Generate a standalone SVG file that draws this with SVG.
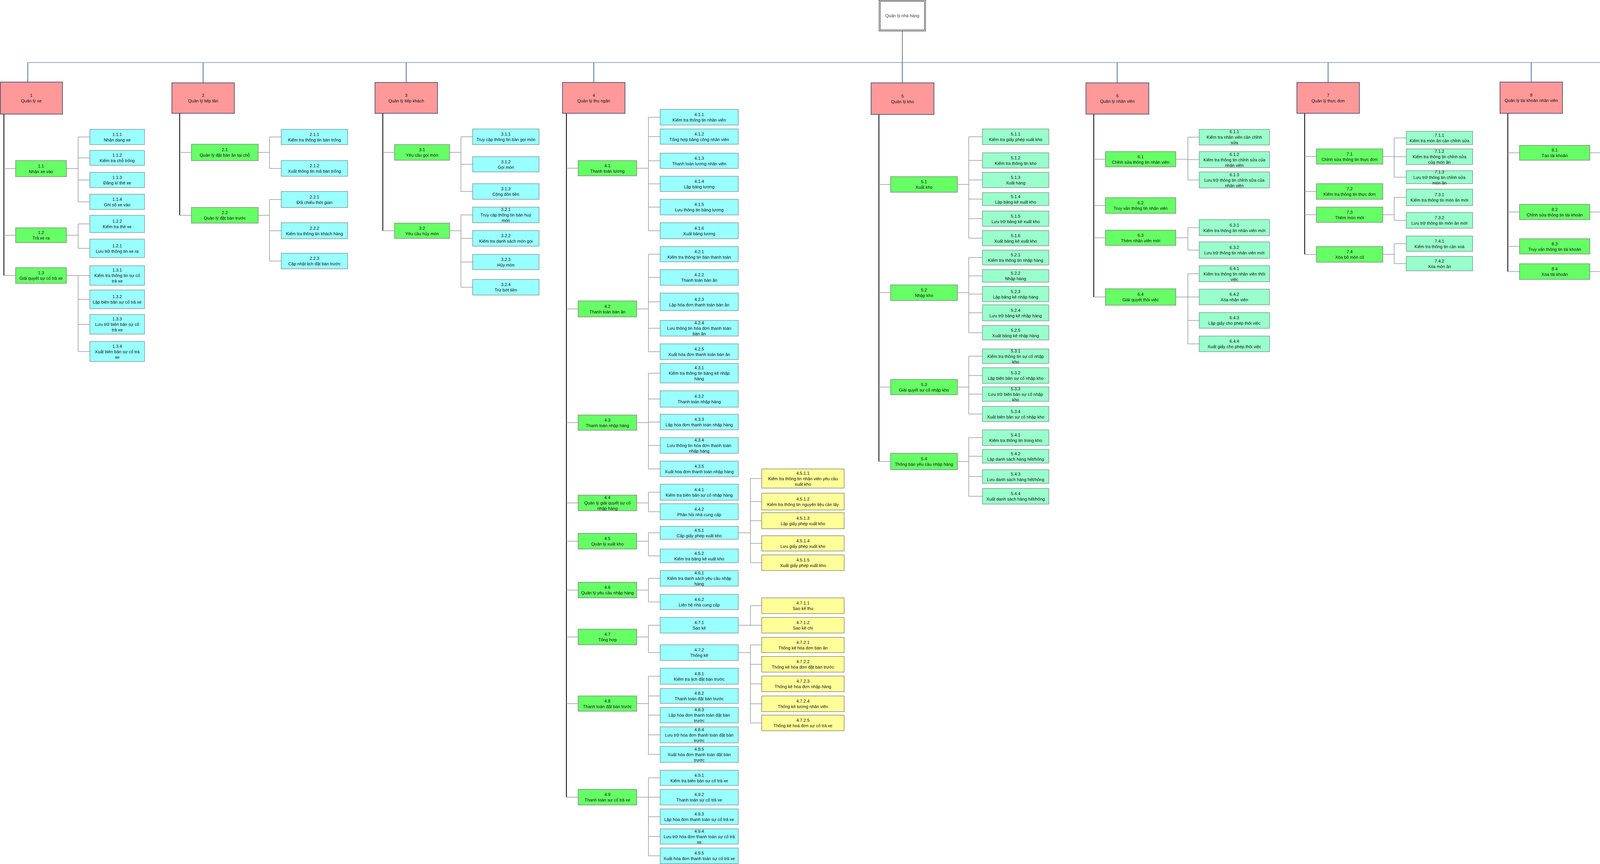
<svg xmlns="http://www.w3.org/2000/svg" width="5601" height="2211" viewBox="0 0 5601 2211">
<style>
text{font-family:"Liberation Sans",Arial,sans-serif;font-size:11px;text-anchor:middle;fill:#111}
.p rect{fill:#FF9999;stroke:#2B3E6E;stroke-width:1.5}
.g rect{fill:#66FF66;stroke:#7F8A7F;stroke-width:1.5}
.c rect{fill:#99FFFF;stroke:#7F9A9A;stroke-width:1.5}
.m rect{fill:#99FFCC;stroke:#7F9A8A;stroke-width:1.5}
.y rect{fill:#FFFF99;stroke:#8A8A70;stroke-width:1.5}
.b text{font-size:14px}
.root rect{fill:#fff;stroke:#000;stroke-width:1}
.root text{fill:#444}
.trunk{stroke:#000;stroke-width:2;fill:none}
.br{stroke:#999;stroke-width:1.5;fill:none}
.bus{stroke:#2F5675;stroke-width:1;fill:none}
.stub{stroke:#7E9CBD;stroke-width:3;fill:none}
.stem{stroke:#808080;stroke-width:2;fill:none}
</style>
<rect width="5601" height="2211" fill="#fff"/>
<g id="connectors">
<path class="stem" d="M2310 80V160"/>
<path class="bus" d="M71 160H5510"/>
<path class="stub" d="M71 160V210M520 160V212M1040 160V211M1520 160V211M2310 160V212M2860 160V212M3400 160V211M3920 160V210M4440 160V212M4970 160V211M5510 160V211"/>
<path class="trunk" d="M10 292V705M460 290V551M980 290V590.5M1450 290V2040M2250 293V1181M2800 292V760M3340 290V651M3860 290V695M4390 293V682M4920 290V682"/>
<path class="br" d="M10 431.5H40M10 602H40M10 705H40
M170 431.5H200M200 350.5V516.5M200 350.5H230M200 404H230M200 460.5H230M200 516.5H230
M170 602H200M200 573V635.5M200 573H230M200 635.5H230
M170 705H200M200 705V899.5M200 705H230M200 766H230M200 830H230M200 899.5H230
M460 390H490M460 551H490
M661 390H690M690 350.5V431M690 350.5H720M690 431H720
M661 551H690M690 510.5V668M690 510.5H720M690 590.5H720M690 668H720
M980 390H1010M980 590.5H1010
M1151 390H1180M1180 350V490M1180 350H1210M1180 420.5H1210M1180 490H1210
M1151 590.5H1180M1180 550V735M1180 550H1210M1180 610H1210M1180 670.5H1210M1180 735H1210
M1450 430.5H1480M1450 790.5H1480M1450 1081.5H1480M1450 1287H1480M1450 1385H1480M1450 1510H1480M1450 1630H1480M1450 1800.5H1480M1450 2040H1480
M1630 430.5H1660M1660 300V590.5M1660 300H1690M1660 349.5H1690M1660 411.5H1690M1660 470.5H1690M1660 530H1690M1660 590.5H1690
M1630 790.5H1660M1660 650.5V900M1660 650.5H1690M1660 710H1690M1660 772.5H1690M1660 840H1690M1660 900H1690
M1630 1081.5H1660M1660 955V1200M1660 955H1690M1660 1021H1690M1660 1080H1690M1660 1140H1690M1660 1200H1690
M1630 1287H1660M1660 1259.5V1309.5M1660 1259.5H1690M1660 1309.5H1690
M1630 1385H1660M1660 1363.5V1422.5M1660 1363.5H1690M1660 1422.5H1690
M1630 1510H1660M1660 1480V1540.5M1660 1480H1690M1660 1540.5H1690
M1630 1630H1660M1660 1600V1670M1660 1600H1690M1660 1670H1690
M1630 1800.5H1660M1660 1730.5V1930.5M1660 1730.5H1690M1660 1781H1690M1660 1830H1690M1660 1880.5H1690M1660 1930.5H1690
M1630 2040H1660M1660 1990.5V2190M1660 1990.5H1690M1660 2040H1690M1660 2090H1690M1660 2140.5H1690M1660 2190H1690
M1890 1363.5H1921M1921 1224.5V1440M1921 1224.5H1950M1921 1283.5H1950M1921 1332.5H1950M1921 1390.5H1950M1921 1440H1950
M1890 1600H1921M1921 1550V1600M1921 1550H1950M1921 1600H1950
M1890 1670H1921M1921 1650.5V1850M1921 1650.5H1950M1921 1700H1950M1921 1750H1950M1921 1801H1950M1921 1850H1950
M2250 472H2280M2250 749H2280M2250 990.5H2280M2250 1181H2280
M2451 472H2480M2480 350V609.5M2480 350H2515M2480 410.5H2515M2480 460.5H2515M2480 509.5H2515M2480 559.5H2515M2480 609.5H2515
M2451 749H2480M2480 659V851.5M2480 659H2515M2480 706H2515M2480 752.5H2515M2480 800.5H2515M2480 851.5H2515
M2451 990.5H2480M2480 911.5V1059.5M2480 911.5H2515M2480 961H2515M2480 1008.5H2515M2480 1059.5H2515
M2451 1181H2480M2480 1120V1270M2480 1120H2515M2480 1167.5H2515M2480 1219.5H2515M2480 1270H2515
M2800 407.5H2830M2800 526H2830M2800 608.5H2830M2800 760H2830
M3010 407.5H3041M3041 351V460.5M3041 351H3070M3041 408.5H3070M3041 460.5H3070
M3010 608.5H3041M3041 582.5V640M3041 582.5H3070M3041 640H3070
M3010 760H3041M3041 700.5V880M3041 700.5H3070M3041 760H3070M3041 820H3070M3041 880H3070
M3340 400.5H3370M3340 490H3370M3340 549.5H3370M3340 651H3370
M3540 400.5H3569M3569 353V453.5M3569 353H3600M3569 401H3600M3569 453.5H3600
M3540 549.5H3569M3569 505V564M3569 505H3600M3569 564H3600
M3540 651H3569M3569 623.5V674.5M3569 623.5H3600M3569 674.5H3600
M3860 391H3890M3860 542.5H3890M3860 630.5H3890M3860 695H3890
M4070 391H4100M4100 350V410M4100 350H4130M4100 410H4130
M4070 542.5H4100M4100 470V590.5M4100 470H4130M4100 529.5H4130M4100 590.5H4130
M4070 695H4100M4100 664V720M4100 664H4130M4100 720H4130
M4390 405.5H4420M4390 500H4420M4390 570.5H4420M4390 682H4420
M4611 405.5H4640M4640 349V460M4640 349H4670M4640 405H4670M4640 460H4670
M4611 570.5H4640M4640 542.5V602M4640 542.5H4670M4640 602H4670
M4611 682H4640M4640 661V720M4640 661H4670M4640 720H4670
M4920 405.5H4950M4920 500H4950M4920 570.5H4950M4920 682H4950
M5141 405.5H5171M5171 349V460M5171 349H5200M5171 405H5200M5171 460H5200
M5141 570.5H5171M5171 542.5V602M5171 542.5H5200M5171 602H5200
M5141 682H5171M5171 661V720M5171 661H5200M5171 720H5200"/>
</g>

<g id="root" class="root"><rect x="2250.5" y="0.5" width="119" height="79"/><rect x="2253.5" y="3.5" width="113" height="73"/><text x="2310" y="44">Quản lý nhà hàng</text></g>

<!-- Column 1 -->
<g id="n1" class="p"><rect x="1" y="210" width="159" height="82"/><text x="80" y="248"><tspan x="80">1</tspan><tspan x="80" dy="14">Quản lý xe</tspan></text></g>
<g id="n1-1" class="g"><rect x="40" y="411" width="130" height="41"/><text x="105" y="428.5"><tspan x="105">1.1</tspan><tspan x="105" dy="14">Nhận xe vào</tspan></text></g>
<g id="n1-2" class="g"><rect x="40" y="583" width="130" height="38"/><text x="105" y="599"><tspan x="105">1.2</tspan><tspan x="105" dy="14">Trả xe ra</tspan></text></g>
<g id="n1-3" class="g"><rect x="40" y="685" width="130" height="40"/><text x="105" y="702"><tspan x="105">1.3</tspan><tspan x="105" dy="14">Giải quyết sự cố trả xe</tspan></text></g>
<g id="n1-1-1" class="c"><rect x="230" y="331" width="140" height="39"/><text x="300" y="347.5"><tspan x="300">1.1.1</tspan><tspan x="300" dy="14">Nhận dạng xe</tspan></text></g>
<g id="n1-1-2" class="c"><rect x="230" y="385" width="140" height="38"/><text x="300" y="401"><tspan x="300">1.1.2</tspan><tspan x="300" dy="14">Kiểm tra chỗ trống</tspan></text></g>
<g id="n1-1-3" class="c"><rect x="230" y="441" width="140" height="39"/><text x="300" y="457.5"><tspan x="300">1.1.3</tspan><tspan x="300" dy="14">Đăng kí thẻ xe</tspan></text></g>
<g id="n1-1-4" class="c"><rect x="230" y="497" width="140" height="39"/><text x="300" y="513.5"><tspan x="300">1.1.4</tspan><tspan x="300" dy="14">Ghi sổ xe vào</tspan></text></g>
<g id="n1-2-2" class="c"><rect x="230" y="551" width="140" height="44"/><text x="300" y="570"><tspan x="300">1.2.2</tspan><tspan x="300" dy="14">Kiểm tra thẻ xe</tspan></text></g>
<g id="n1-2-1" class="c"><rect x="230" y="612" width="140" height="47"/><text x="300" y="632.5"><tspan x="300">1.2.1</tspan><tspan x="300" dy="14">Lưu trữ thông tin xe ra</tspan></text></g>
<g id="n1-3-1" class="c"><rect x="230" y="680" width="140" height="50"/><text x="300" y="695"><tspan x="300">1.3.1</tspan><tspan x="300" dy="14">Kiểm tra thông tin sự cố</tspan><tspan x="300" dy="14">trả xe</tspan></text></g>
<g id="n1-3-2" class="c"><rect x="230" y="742" width="140" height="48"/><text x="300" y="763"><tspan x="300">1.3.2</tspan><tspan x="300" dy="14">Lập biên bản sự cố trả xe</tspan></text></g>
<g id="n1-3-3" class="c"><rect x="230" y="805" width="140" height="50"/><text x="300" y="820"><tspan x="300">1.3.3</tspan><tspan x="300" dy="14">Lưu trữ biên bản sự cố</tspan><tspan x="300" dy="14">trả xe</tspan></text></g>
<g id="n1-3-4" class="c"><rect x="230" y="874" width="140" height="51"/><text x="300" y="889.5"><tspan x="300">1.3.4</tspan><tspan x="300" dy="14">Xuất biên bản sự cố trả</tspan><tspan x="300" dy="14">xe</tspan></text></g>

<!-- Column 2 -->
<g id="n2" class="p"><rect x="440" y="212" width="160" height="78"/><text x="520" y="248"><tspan x="520">2</tspan><tspan x="520" dy="14">Quản lý tiếp tân</tspan></text></g>
<g id="n2-1" class="g"><rect x="490" y="369" width="171" height="42"/><text x="575.5" y="387"><tspan x="575.5">2.1</tspan><tspan x="575.5" dy="14">Quản lý đặt bàn ăn tại chỗ</tspan></text></g>
<g id="n2-2" class="g"><rect x="490" y="531" width="171" height="40"/><text x="575.5" y="548"><tspan x="575.5">2.2</tspan><tspan x="575.5" dy="14">Quản lý đặt bàn trước</tspan></text></g>
<g id="n2-1-1" class="c"><rect x="720" y="331" width="170" height="39"/><text x="805" y="347.5"><tspan x="805">2.1.1</tspan><tspan x="805" dy="14">Kiểm tra thông tin bàn trống</tspan></text></g>
<g id="n2-1-2" class="c"><rect x="720" y="411" width="170" height="40"/><text x="805" y="428"><tspan x="805">2.1.2</tspan><tspan x="805" dy="14">Xuất thông tin mã bàn trống</tspan></text></g>
<g id="n2-2-1" class="c"><rect x="720" y="490" width="170" height="41"/><text x="805" y="507.5"><tspan x="805">2.2.1</tspan><tspan x="805" dy="14">Đối chiếu thời gian</tspan></text></g>
<g id="n2-2-2" class="c"><rect x="720" y="570" width="170" height="41"/><text x="805" y="587.5"><tspan x="805">2.2.2</tspan><tspan x="805" dy="14">Kiểm tra thông tin khách hàng</tspan></text></g>
<g id="n2-2-3" class="c"><rect x="720" y="648" width="170" height="40"/><text x="805" y="665"><tspan x="805">2.2.3</tspan><tspan x="805" dy="14">Cập nhật lịch đặt bàn trước</tspan></text></g>

<!-- Column 3 -->
<g id="n3" class="p"><rect x="960" y="211" width="160" height="79"/><text x="1040" y="247.5"><tspan x="1040">3</tspan><tspan x="1040" dy="14">Quản lý tiếp khách</tspan></text></g>
<g id="n3-1" class="g"><rect x="1010" y="370" width="141" height="40"/><text x="1080.5" y="387"><tspan x="1080.5">3.1</tspan><tspan x="1080.5" dy="14">Yêu cầu gọi món</tspan></text></g>
<g id="n3-2" class="g"><rect x="1010" y="571" width="141" height="39"/><text x="1080.5" y="587.5"><tspan x="1080.5">3.2</tspan><tspan x="1080.5" dy="14">Yêu cầu hủy món</tspan></text></g>
<g id="n3-1-1" class="c"><rect x="1210" y="330" width="170" height="40"/><text x="1295" y="347"><tspan x="1295">3.1.1</tspan><tspan x="1295" dy="14">Truy cập thông tin bàn gọi món</tspan></text></g>
<g id="n3-1-2" class="c"><rect x="1210" y="401" width="170" height="39"/><text x="1295" y="417.5"><tspan x="1295">3.1.2</tspan><tspan x="1295" dy="14">Gọi món</tspan></text></g>
<g id="n3-1-3" class="c"><rect x="1210" y="470" width="170" height="40"/><text x="1295" y="487"><tspan x="1295">3.1.3</tspan><tspan x="1295" dy="14">Cộng dồn tiền</tspan></text></g>
<g id="n3-2-1" class="c"><rect x="1210" y="530" width="170" height="40"/><text x="1295" y="540"><tspan x="1295">3.2.1</tspan><tspan x="1295" dy="14">Truy cập thông tin bàn huỷ</tspan><tspan x="1295" dy="14">món</tspan></text></g>
<g id="n3-2-2" class="c"><rect x="1210" y="590" width="170" height="40"/><text x="1295" y="607"><tspan x="1295">3.2.2</tspan><tspan x="1295" dy="14">Kiểm tra danh sách món gọi</tspan></text></g>
<g id="n3-2-3" class="c"><rect x="1210" y="651" width="170" height="39"/><text x="1295" y="667.5"><tspan x="1295">3.2.3</tspan><tspan x="1295" dy="14">Hủy món</tspan></text></g>
<g id="n3-2-4" class="c"><rect x="1210" y="715" width="170" height="40"/><text x="1295" y="732"><tspan x="1295">3.2.4</tspan><tspan x="1295" dy="14">Trừ bớt tiền</tspan></text></g>

<!-- Column 4 -->
<g id="n4" class="p"><rect x="1440" y="211" width="160" height="79"/><text x="1520" y="247.5"><tspan x="1520">4</tspan><tspan x="1520" dy="14">Quản lý thu ngân</tspan></text></g>
<g id="n4-1" class="g"><rect x="1480" y="411" width="150" height="39"/><text x="1555" y="427.5"><tspan x="1555">4.1</tspan><tspan x="1555" dy="14">Thanh toán lương</tspan></text></g>
<g id="n4-2" class="g"><rect x="1480" y="770" width="150" height="41"/><text x="1555" y="787.5"><tspan x="1555">4.2</tspan><tspan x="1555" dy="14">Thanh toán bàn ăn</tspan></text></g>
<g id="n4-3" class="g"><rect x="1480" y="1062" width="150" height="39"/><text x="1555" y="1078.5"><tspan x="1555">4.3</tspan><tspan x="1555" dy="14">Thanh toán nhập hàng</tspan></text></g>
<g id="n4-4" class="g"><rect x="1480" y="1267" width="150" height="40"/><text x="1555" y="1277"><tspan x="1555">4.4</tspan><tspan x="1555" dy="14">Quản lý giải quyết sự cố</tspan><tspan x="1555" dy="14">nhập hàng</tspan></text></g>
<g id="n4-5" class="g"><rect x="1480" y="1365" width="150" height="40"/><text x="1555" y="1382"><tspan x="1555">4.5</tspan><tspan x="1555" dy="14">Quản lý xuất kho</tspan></text></g>
<g id="n4-6" class="g"><rect x="1480" y="1490" width="150" height="40"/><text x="1555" y="1507"><tspan x="1555">4.6</tspan><tspan x="1555" dy="14">Quản lý yêu cầu nhập hàng</tspan></text></g>
<g id="n4-7" class="g"><rect x="1480" y="1610" width="150" height="40"/><text x="1555" y="1627"><tspan x="1555">4.7</tspan><tspan x="1555" dy="14">Tổng hợp</tspan></text></g>
<g id="n4-8" class="g"><rect x="1480" y="1781" width="150" height="39"/><text x="1555" y="1797.5"><tspan x="1555">4.8</tspan><tspan x="1555" dy="14">Thanh toán đặt bàn trước</tspan></text></g>
<g id="n4-9" class="g"><rect x="1480" y="2020" width="150" height="40"/><text x="1555" y="2037"><tspan x="1555">4.9</tspan><tspan x="1555" dy="14">Thanh toán sự cố trả xe</tspan></text></g>
<g id="n4-1-1" class="c"><rect x="1690" y="280" width="200" height="40"/><text x="1790" y="297"><tspan x="1790">4.1.1</tspan><tspan x="1790" dy="14">Kiểm tra thông tin nhân viên</tspan></text></g>
<g id="n4-1-2" class="c"><rect x="1690" y="330" width="200" height="39"/><text x="1790" y="346.5"><tspan x="1790">4.1.2</tspan><tspan x="1790" dy="14">Tổng hợp bảng công nhân viên</tspan></text></g>
<g id="n4-1-3" class="c"><rect x="1690" y="392" width="200" height="39"/><text x="1790" y="408.5"><tspan x="1790">4.1.3</tspan><tspan x="1790" dy="14">Thanh toán lương nhân viên</tspan></text></g>
<g id="n4-1-4" class="c"><rect x="1690" y="451" width="200" height="39"/><text x="1790" y="467.5"><tspan x="1790">4.1.4</tspan><tspan x="1790" dy="14">Lập bảng lương</tspan></text></g>
<g id="n4-1-5" class="c"><rect x="1690" y="510" width="200" height="40"/><text x="1790" y="527"><tspan x="1790">4.1.5</tspan><tspan x="1790" dy="14">Lưu thông tin bảng lương</tspan></text></g>
<g id="n4-1-6" class="c"><rect x="1690" y="570" width="200" height="41"/><text x="1790" y="587.5"><tspan x="1790">4.1.6</tspan><tspan x="1790" dy="14">Xuất bảng lương</tspan></text></g>
<g id="n4-2-1" class="c"><rect x="1690" y="631" width="200" height="39"/><text x="1790" y="647.5"><tspan x="1790">4.2.1</tspan><tspan x="1790" dy="14">Kiểm tra thông tin bàn thanh toán</tspan></text></g>
<g id="n4-2-2" class="c"><rect x="1690" y="690" width="200" height="40"/><text x="1790" y="707"><tspan x="1790">4.2.2</tspan><tspan x="1790" dy="14">Thanh toán bàn ăn</tspan></text></g>
<g id="n4-2-3" class="c"><rect x="1690" y="750" width="200" height="45"/><text x="1790" y="769.5"><tspan x="1790">4.2.3</tspan><tspan x="1790" dy="14">Lập hóa đơn thanh toán bàn ăn</tspan></text></g>
<g id="n4-2-4" class="c"><rect x="1690" y="820" width="200" height="40"/><text x="1790" y="830"><tspan x="1790">4.2.4</tspan><tspan x="1790" dy="14">Lưu thông tin hóa đơn thanh toán</tspan><tspan x="1790" dy="14">bàn ăn</tspan></text></g>
<g id="n4-2-5" class="c"><rect x="1690" y="880" width="200" height="40"/><text x="1790" y="897"><tspan x="1790">4.2.5</tspan><tspan x="1790" dy="14">Xuất hóa đơn thanh toán bàn ăn</tspan></text></g>
<g id="n4-3-1" class="c"><rect x="1690" y="930" width="200" height="50"/><text x="1790" y="945"><tspan x="1790">4.3.1</tspan><tspan x="1790" dy="14">Kiểm tra thông tin bảng kê nhập</tspan><tspan x="1790" dy="14">hàng</tspan></text></g>
<g id="n4-3-2" class="c"><rect x="1690" y="1000" width="200" height="42"/><text x="1790" y="1018"><tspan x="1790">4.3.2</tspan><tspan x="1790" dy="14">Thanh toán nhập hàng</tspan></text></g>
<g id="n4-3-3" class="c"><rect x="1690" y="1060" width="200" height="40"/><text x="1790" y="1077"><tspan x="1790">4.3.3</tspan><tspan x="1790" dy="14">Lập hóa đơn thanh toán nhập hàng</tspan></text></g>
<g id="n4-3-4" class="c"><rect x="1690" y="1120" width="200" height="40"/><text x="1790" y="1130"><tspan x="1790">4.3.4</tspan><tspan x="1790" dy="14">Lưu thông tin hóa đơn thanh toán</tspan><tspan x="1790" dy="14">nhập hàng</tspan></text></g>
<g id="n4-3-5" class="c"><rect x="1690" y="1180" width="200" height="40"/><text x="1790" y="1197"><tspan x="1790">4.3.5</tspan><tspan x="1790" dy="14">Xuất hóa đơn thanh toán nhập hàng</tspan></text></g>
<g id="n4-4-1" class="c"><rect x="1690" y="1239" width="200" height="41"/><text x="1790" y="1256.5"><tspan x="1790">4.4.1</tspan><tspan x="1790" dy="14">Kiểm tra biên bản sự cố nhập hàng</tspan></text></g>
<g id="n4-4-2" class="c"><rect x="1690" y="1289" width="200" height="41"/><text x="1790" y="1306.5"><tspan x="1790">4.4.2</tspan><tspan x="1790" dy="14">Phản hồi nhà cung cấp</tspan></text></g>
<g id="n4-5-1" class="c"><rect x="1690" y="1347" width="200" height="33"/><text x="1790" y="1360.5"><tspan x="1790">4.5.1</tspan><tspan x="1790" dy="14">Cấp giấy phép xuất kho</tspan></text></g>
<g id="n4-5-2" class="c"><rect x="1690" y="1405" width="200" height="35"/><text x="1790" y="1419.5"><tspan x="1790">4.5.2</tspan><tspan x="1790" dy="14">Kiểm tra bảng kê xuất kho</tspan></text></g>
<g id="n4-6-1" class="c"><rect x="1690" y="1460" width="200" height="40"/><text x="1790" y="1470"><tspan x="1790">4.6.1</tspan><tspan x="1790" dy="14">Kiểm tra danh sách yêu cầu nhập</tspan><tspan x="1790" dy="14">hàng</tspan></text></g>
<g id="n4-6-2" class="c"><rect x="1690" y="1521" width="200" height="39"/><text x="1790" y="1537.5"><tspan x="1790">4.6.2</tspan><tspan x="1790" dy="14">Liên hệ nhà cung cấp</tspan></text></g>
<g id="n4-7-1" class="c"><rect x="1690" y="1580" width="200" height="40"/><text x="1790" y="1597"><tspan x="1790">4.7.1</tspan><tspan x="1790" dy="14">Sao kê</tspan></text></g>
<g id="n4-7-2" class="c"><rect x="1690" y="1650" width="200" height="40"/><text x="1790" y="1667"><tspan x="1790">4.7.2</tspan><tspan x="1790" dy="14">Thống kê</tspan></text></g>
<g id="n4-8-1" class="c"><rect x="1690" y="1710" width="200" height="41"/><text x="1790" y="1727.5"><tspan x="1790">4.8.1</tspan><tspan x="1790" dy="14">Kiểm tra lịch đặt bàn trước</tspan></text></g>
<g id="n4-8-2" class="c"><rect x="1690" y="1762" width="200" height="38"/><text x="1790" y="1778"><tspan x="1790">4.8.2</tspan><tspan x="1790" dy="14">Thanh toán đặt bàn trước</tspan></text></g>
<g id="n4-8-3" class="c"><rect x="1690" y="1810" width="200" height="40"/><text x="1790" y="1820"><tspan x="1790">4.8.3</tspan><tspan x="1790" dy="14">Lập hóa đơn thanh toán đặt bàn</tspan><tspan x="1790" dy="14">trước</tspan></text></g>
<g id="n4-8-4" class="c"><rect x="1690" y="1860" width="200" height="41"/><text x="1790" y="1870.5"><tspan x="1790">4.8.4</tspan><tspan x="1790" dy="14">Lưu trữ hóa đơn thanh toán đặt bàn</tspan><tspan x="1790" dy="14">trước</tspan></text></g>
<g id="n4-8-5" class="c"><rect x="1690" y="1910" width="200" height="41"/><text x="1790" y="1920.5"><tspan x="1790">4.8.5</tspan><tspan x="1790" dy="14">Xuất hóa đơn thanh toán đặt bàn</tspan><tspan x="1790" dy="14">trước</tspan></text></g>
<g id="n4-9-1" class="c"><rect x="1690" y="1971" width="200" height="39"/><text x="1790" y="1987.5"><tspan x="1790">4.9.1</tspan><tspan x="1790" dy="14">Kiểm tra biên bản sự cố trả xe</tspan></text></g>
<g id="n4-9-2" class="c"><rect x="1690" y="2020" width="200" height="40"/><text x="1790" y="2037"><tspan x="1790">4.9.2</tspan><tspan x="1790" dy="14">Thanh toán sự cố trả xe</tspan></text></g>
<g id="n4-9-3" class="c"><rect x="1690" y="2070" width="200" height="40"/><text x="1790" y="2087"><tspan x="1790">4.9.3</tspan><tspan x="1790" dy="14">Lập hóa đơn thanh toán sự cố trả xe</tspan></text></g>
<g id="n4-9-4" class="c"><rect x="1690" y="2121" width="200" height="39"/><text x="1790" y="2130.5"><tspan x="1790">4.9.4</tspan><tspan x="1790" dy="14">Lưu trữ hóa đơn thanh toán sự cố trả</tspan><tspan x="1790" dy="14">xe</tspan></text></g>
<g id="n4-9-5" class="c"><rect x="1690" y="2170" width="200" height="40"/><text x="1790" y="2187"><tspan x="1790">4.9.5</tspan><tspan x="1790" dy="14">Xuất hóa đơn thanh toán sự cố trả xe</tspan></text></g>
<g id="n4-5-1-1" class="y"><rect x="1950" y="1200" width="211" height="49"/><text x="2055.5" y="1214.5"><tspan x="2055.5">4.5.1.1</tspan><tspan x="2055.5" dy="14">Kiểm tra thông tin nhân viên yêu cầu</tspan><tspan x="2055.5" dy="14">xuất kho</tspan></text></g>
<g id="n4-5-1-2" class="y"><rect x="1950" y="1262" width="211" height="43"/><text x="2055.5" y="1280.5"><tspan x="2055.5">4.5.1.2</tspan><tspan x="2055.5" dy="14">Kiểm tra thông tin nguyên liệu cần lấy</tspan></text></g>
<g id="n4-5-1-3" class="y"><rect x="1950" y="1312" width="211" height="41"/><text x="2055.5" y="1329.5"><tspan x="2055.5">4.5.1.3</tspan><tspan x="2055.5" dy="14">Lập giấy phép xuất kho</tspan></text></g>
<g id="n4-5-1-4" class="y"><rect x="1950" y="1371" width="211" height="39"/><text x="2055.5" y="1387.5"><tspan x="2055.5">4.5.1.4</tspan><tspan x="2055.5" dy="14">Lưu giấy phép xuất kho</tspan></text></g>
<g id="n4-5-1-5" class="y"><rect x="1950" y="1420" width="211" height="40"/><text x="2055.5" y="1437"><tspan x="2055.5">4.5.1.5</tspan><tspan x="2055.5" dy="14">Xuất giấy phép xuất kho</tspan></text></g>
<g id="n4-7-1-1" class="y"><rect x="1950" y="1530" width="211" height="40"/><text x="2055.5" y="1547"><tspan x="2055.5">4.7.1.1</tspan><tspan x="2055.5" dy="14">Sao kê thu</tspan></text></g>
<g id="n4-7-1-2" class="y"><rect x="1950" y="1580" width="211" height="40"/><text x="2055.5" y="1597"><tspan x="2055.5">4.7.1.2</tspan><tspan x="2055.5" dy="14">Sao kê chi</tspan></text></g>
<g id="n4-7-2-1" class="y"><rect x="1950" y="1631" width="211" height="39"/><text x="2055.5" y="1647.5"><tspan x="2055.5">4.7.2.1</tspan><tspan x="2055.5" dy="14">Thống kê hóa đơn bàn ăn</tspan></text></g>
<g id="n4-7-2-2" class="y"><rect x="1950" y="1680" width="211" height="40"/><text x="2055.5" y="1697"><tspan x="2055.5">4.7.2.2</tspan><tspan x="2055.5" dy="14">Thống kê hóa đơn đặt bàn trước</tspan></text></g>
<g id="n4-7-2-3" class="y"><rect x="1950" y="1730" width="211" height="40"/><text x="2055.5" y="1747"><tspan x="2055.5">4.7.2.3</tspan><tspan x="2055.5" dy="14">Thống kê hóa đơn nhập hàng</tspan></text></g>
<g id="n4-7-2-4" class="y"><rect x="1950" y="1781" width="211" height="40"/><text x="2055.5" y="1798"><tspan x="2055.5">4.7.2.4</tspan><tspan x="2055.5" dy="14">Thống kê lương nhân viên</tspan></text></g>
<g id="n4-7-2-5" class="y"><rect x="1950" y="1830" width="211" height="40"/><text x="2055.5" y="1847"><tspan x="2055.5">4.7.2.5</tspan><tspan x="2055.5" dy="14">Thống kê hoá đơn sự cố trả xe</tspan></text></g>

<!-- Column 5 -->
<g id="n5" class="p"><rect x="2230" y="212" width="161" height="81"/><text x="2310.5" y="249.5"><tspan x="2310.5">5</tspan><tspan x="2310.5" dy="14">Quản lý kho</tspan></text></g>
<g id="n5-1" class="g"><rect x="2280" y="452" width="171" height="40"/><text x="2365.5" y="469"><tspan x="2365.5">5.1</tspan><tspan x="2365.5" dy="14">Xuất kho</tspan></text></g>
<g id="n5-2" class="g"><rect x="2280" y="729" width="171" height="40"/><text x="2365.5" y="746"><tspan x="2365.5">5.2</tspan><tspan x="2365.5" dy="14">Nhập kho</tspan></text></g>
<g id="n5-3" class="g"><rect x="2280" y="971" width="171" height="39"/><text x="2365.5" y="987.5"><tspan x="2365.5">5.3</tspan><tspan x="2365.5" dy="14">Giải quyết sự cố nhập kho</tspan></text></g>
<g id="n5-4" class="g"><rect x="2280" y="1160" width="171" height="42"/><text x="2365.5" y="1178"><tspan x="2365.5">5.4</tspan><tspan x="2365.5" dy="14">Thông báo yêu cầu nhập hàng</tspan></text></g>
<g id="n5-1-1" class="m"><rect x="2515" y="330" width="170" height="40"/><text x="2600" y="347"><tspan x="2600">5.1.1</tspan><tspan x="2600" dy="14">Kiểm tra giấy phép xuất kho</tspan></text></g>
<g id="n5-1-2" class="m"><rect x="2515" y="391" width="170" height="39"/><text x="2600" y="407.5"><tspan x="2600">5.1.2</tspan><tspan x="2600" dy="14">Kiểm tra thông tin kho</tspan></text></g>
<g id="n5-1-3" class="m"><rect x="2515" y="441" width="170" height="39"/><text x="2600" y="457.5"><tspan x="2600">5.1.3</tspan><tspan x="2600" dy="14">Xuất hàng</tspan></text></g>
<g id="n5-1-4" class="m"><rect x="2515" y="493" width="170" height="33"/><text x="2600" y="506.5"><tspan x="2600">5.1.4</tspan><tspan x="2600" dy="14">Lập bảng kê xuất kho</tspan></text></g>
<g id="n5-1-5" class="m"><rect x="2515" y="540" width="170" height="39"/><text x="2600" y="556.5"><tspan x="2600">5.1.5</tspan><tspan x="2600" dy="14">Lưu trữ bảng kê xuất kho</tspan></text></g>
<g id="n5-1-6" class="m"><rect x="2515" y="590" width="170" height="39"/><text x="2600" y="606.5"><tspan x="2600">5.1.6</tspan><tspan x="2600" dy="14">Xuất bảng kê xuất kho</tspan></text></g>
<g id="n5-2-1" class="m"><rect x="2515" y="640" width="170" height="38"/><text x="2600" y="656"><tspan x="2600">5.2.1</tspan><tspan x="2600" dy="14">Kiểm tra thông tin nhập hàng</tspan></text></g>
<g id="n5-2-2" class="m"><rect x="2515" y="690" width="170" height="32"/><text x="2600" y="703"><tspan x="2600">5.2.2</tspan><tspan x="2600" dy="14">Nhập hàng</tspan></text></g>
<g id="n5-2-3" class="m"><rect x="2515" y="733" width="170" height="39"/><text x="2600" y="749.5"><tspan x="2600">5.2.3</tspan><tspan x="2600" dy="14">Lập bảng kê nhập hàng</tspan></text></g>
<g id="n5-2-4" class="m"><rect x="2515" y="780" width="170" height="41"/><text x="2600" y="797.5"><tspan x="2600">5.2.4</tspan><tspan x="2600" dy="14">Lưu trữ bảng kê nhập hàng</tspan></text></g>
<g id="n5-2-5" class="m"><rect x="2515" y="833" width="170" height="37"/><text x="2600" y="848.5"><tspan x="2600">5.2.5</tspan><tspan x="2600" dy="14">Xuất bảng kê nhập hàng</tspan></text></g>
<g id="n5-3-1" class="m"><rect x="2515" y="893" width="170" height="37"/><text x="2600" y="901.5"><tspan x="2600">5.3.1</tspan><tspan x="2600" dy="14">Kiểm tra thông tin sự cố nhập</tspan><tspan x="2600" dy="14">kho</tspan></text></g>
<g id="n5-3-2" class="m"><rect x="2515" y="941" width="170" height="40"/><text x="2600" y="958"><tspan x="2600">5.3.2</tspan><tspan x="2600" dy="14">Lập biên bản sự cố nhập kho</tspan></text></g>
<g id="n5-3-3" class="m"><rect x="2515" y="990" width="170" height="37"/><text x="2600" y="998.5"><tspan x="2600">5.3.3</tspan><tspan x="2600" dy="14">Lưu trữ biên bản sự cố nhập</tspan><tspan x="2600" dy="14">kho</tspan></text></g>
<g id="n5-3-4" class="m"><rect x="2515" y="1040" width="170" height="39"/><text x="2600" y="1056.5"><tspan x="2600">5.3.4</tspan><tspan x="2600" dy="14">Xuất biên bản sự cố nhập kho</tspan></text></g>
<g id="n5-4-1" class="m"><rect x="2515" y="1100" width="170" height="40"/><text x="2600" y="1117"><tspan x="2600">5.4.1</tspan><tspan x="2600" dy="14">Kiểm tra thông tin trong kho</tspan></text></g>
<g id="n5-4-2" class="m"><rect x="2515" y="1150" width="170" height="35"/><text x="2600" y="1164.5"><tspan x="2600">5.4.2</tspan><tspan x="2600" dy="14">Lập danh sách hàng hết/hỏng</tspan></text></g>
<g id="n5-4-3" class="m"><rect x="2515" y="1202" width="170" height="35"/><text x="2600" y="1216.5"><tspan x="2600">5.4.3</tspan><tspan x="2600" dy="14">Lưu danh sách hàng hết/hỏng</tspan></text></g>
<g id="n5-4-4" class="m"><rect x="2515" y="1250" width="170" height="40"/><text x="2600" y="1267"><tspan x="2600">5.4.4</tspan><tspan x="2600" dy="14">Xuất danh sách hàng hết/hỏng</tspan></text></g>

<!-- Column 6 -->
<g id="n6" class="p"><rect x="2780" y="212" width="161" height="80"/><text x="2860.5" y="249"><tspan x="2860.5">6</tspan><tspan x="2860.5" dy="14">Quản lý nhân viên</tspan></text></g>
<g id="n6-1" class="g"><rect x="2830" y="388" width="180" height="39"/><text x="2920" y="404.5"><tspan x="2920">6.1</tspan><tspan x="2920" dy="14">Chỉnh sửa thông tin nhân viên</tspan></text></g>
<g id="n6-2" class="g"><rect x="2830" y="506" width="180" height="40"/><text x="2920" y="523"><tspan x="2920">6.2</tspan><tspan x="2920" dy="14">Truy vấn thông tin nhân viên</tspan></text></g>
<g id="n6-3" class="g"><rect x="2830" y="589" width="180" height="39"/><text x="2920" y="605.5"><tspan x="2920">6.3</tspan><tspan x="2920" dy="14">Thêm nhân viên mới</tspan></text></g>
<g id="n6-4" class="g"><rect x="2830" y="739" width="180" height="42"/><text x="2920" y="757"><tspan x="2920">6.4</tspan><tspan x="2920" dy="14">Giải quyết thôi việc</tspan></text></g>
<g id="n6-1-1" class="m"><rect x="3070" y="331" width="180" height="40"/><text x="3160" y="341"><tspan x="3160">6.1.1</tspan><tspan x="3160" dy="14">Kiểm tra nhân viên cần chỉnh</tspan><tspan x="3160" dy="14">sửa</tspan></text></g>
<g id="n6-1-2" class="m"><rect x="3070" y="388" width="180" height="41"/><text x="3160" y="398.5"><tspan x="3160">6.1.2</tspan><tspan x="3160" dy="14">Kiểm tra thông tin chỉnh sửa của</tspan><tspan x="3160" dy="14">nhân viên</tspan></text></g>
<g id="n6-1-3" class="m"><rect x="3070" y="440" width="180" height="41"/><text x="3160" y="450.5"><tspan x="3160">6.1.3</tspan><tspan x="3160" dy="14">Lưu trữ thông tin chỉnh sửa của</tspan><tspan x="3160" dy="14">nhân viên</tspan></text></g>
<g id="n6-3-1" class="m"><rect x="3070" y="562" width="180" height="41"/><text x="3160" y="579.5"><tspan x="3160">6.3.1</tspan><tspan x="3160" dy="14">Kiểm tra thông tin nhân viên mới</tspan></text></g>
<g id="n6-3-2" class="m"><rect x="3070" y="619" width="180" height="42"/><text x="3160" y="637"><tspan x="3160">6.3.2</tspan><tspan x="3160" dy="14">Lưu trữ thông tin nhân viên mới</tspan></text></g>
<g id="n6-4-1" class="m"><rect x="3070" y="680" width="180" height="41"/><text x="3160" y="690.5"><tspan x="3160">6.4.1</tspan><tspan x="3160" dy="14">Kiểm tra thông tin nhân viên thôi</tspan><tspan x="3160" dy="14">việc</tspan></text></g>
<g id="n6-4-2" class="m"><rect x="3070" y="740" width="180" height="40"/><text x="3160" y="757"><tspan x="3160">6.4.2</tspan><tspan x="3160" dy="14">Xóa nhân viên</tspan></text></g>
<g id="n6-4-3" class="m"><rect x="3070" y="800" width="180" height="40"/><text x="3160" y="817"><tspan x="3160">6.4.3</tspan><tspan x="3160" dy="14">Lập giấy cho phép thôi việc</tspan></text></g>
<g id="n6-4-4" class="m"><rect x="3070" y="860" width="180" height="40"/><text x="3160" y="877"><tspan x="3160">6.4.4</tspan><tspan x="3160" dy="14">Xuất giấy cho phép thôi việc</tspan></text></g>

<!-- Column 7 -->
<g id="n7" class="p"><rect x="3320" y="211" width="160" height="79"/><text x="3400" y="247.5"><tspan x="3400">7</tspan><tspan x="3400" dy="14">Quản lý thực đơn</tspan></text></g>
<g id="n7-1" class="g"><rect x="3370" y="381" width="170" height="39"/><text x="3455" y="397.5"><tspan x="3455">7.1</tspan><tspan x="3455" dy="14">Chỉnh sửa thông tin thực đơn</tspan></text></g>
<g id="n7-2" class="g"><rect x="3370" y="470" width="170" height="40"/><text x="3455" y="487"><tspan x="3455">7.2</tspan><tspan x="3455" dy="14">Kiểm tra thông tin thực đơn</tspan></text></g>
<g id="n7-3" class="g"><rect x="3370" y="530" width="170" height="39"/><text x="3455" y="546.5"><tspan x="3455">7.3</tspan><tspan x="3455" dy="14">Thêm món mới</tspan></text></g>
<g id="n7-4" class="g"><rect x="3370" y="631" width="170" height="40"/><text x="3455" y="648"><tspan x="3455">7.4</tspan><tspan x="3455" dy="14">Xóa bỏ món cũ</tspan></text></g>
<g id="n7-1-1" class="m"><rect x="3600" y="336" width="170" height="34"/><text x="3685" y="350"><tspan x="3685">7.1.1</tspan><tspan x="3685" dy="14">Kiểm tra món ăn cần chỉnh sửa</tspan></text></g>
<g id="n7-1-2" class="m"><rect x="3600" y="381" width="170" height="40"/><text x="3685" y="391"><tspan x="3685">7.1.2</tspan><tspan x="3685" dy="14">Kiểm tra thông tin chỉnh sửa</tspan><tspan x="3685" dy="14">của món ăn</tspan></text></g>
<g id="n7-1-3" class="m"><rect x="3600" y="437" width="170" height="33"/><text x="3685" y="443.5"><tspan x="3685">7.1.3</tspan><tspan x="3685" dy="14">Lưu trữ thông tin chỉnh sửa</tspan><tspan x="3685" dy="14">món ăn</tspan></text></g>
<g id="n7-3-1" class="m"><rect x="3600" y="484" width="170" height="42"/><text x="3685" y="502"><tspan x="3685">7.3.1</tspan><tspan x="3685" dy="14">Kiểm tra thông tin món ăn mới</tspan></text></g>
<g id="n7-3-2" class="m"><rect x="3600" y="544" width="170" height="40"/><text x="3685" y="561"><tspan x="3685">7.3.2</tspan><tspan x="3685" dy="14">Lưu trữ thông tin món ăn mới</tspan></text></g>
<g id="n7-4-1" class="m"><rect x="3600" y="604" width="170" height="39"/><text x="3685" y="620.5"><tspan x="3685">7.4.1</tspan><tspan x="3685" dy="14">Kiểm tra thông tin cần xoá</tspan></text></g>
<g id="n7-4-2" class="m"><rect x="3600" y="656" width="170" height="37"/><text x="3685" y="671.5"><tspan x="3685">7.4.2</tspan><tspan x="3685" dy="14">Xóa món ăn</tspan></text></g>

<!-- Column 8 -->
<g id="n8" class="p"><rect x="3840" y="210" width="160" height="80"/><text x="3920" y="247"><tspan x="3920">8</tspan><tspan x="3920" dy="14">Quản lý tài khoản nhân viên</tspan></text></g>
<g id="n8-1" class="g"><rect x="3890" y="372" width="180" height="38"/><text x="3980" y="388"><tspan x="3980">8.1</tspan><tspan x="3980" dy="14">Tạo tài khoản</tspan></text></g>
<g id="n8-2" class="g"><rect x="3890" y="523" width="180" height="39"/><text x="3980" y="539.5"><tspan x="3980">8.2</tspan><tspan x="3980" dy="14">Chỉnh sửa thông tin tài khoản</tspan></text></g>
<g id="n8-3" class="g"><rect x="3890" y="611" width="180" height="39"/><text x="3980" y="627.5"><tspan x="3980">8.3</tspan><tspan x="3980" dy="14">Truy vấn thông tin tài khoản</tspan></text></g>
<g id="n8-4" class="g"><rect x="3890" y="675" width="180" height="40"/><text x="3980" y="692"><tspan x="3980">8.4</tspan><tspan x="3980" dy="14">Xóa tài khoản</tspan></text></g>
<g id="n8-1-1" class="m"><rect x="4130" y="330" width="170" height="40"/><text x="4215" y="340"><tspan x="4215">8.1.1</tspan><tspan x="4215" dy="14">Kiểm tra thông tin tài khoản</tspan><tspan x="4215" dy="14">mới</tspan></text></g>
<g id="n8-1-2" class="m"><rect x="4130" y="390" width="170" height="40"/><text x="4215" y="407"><tspan x="4215">8.1.2</tspan><tspan x="4215" dy="14">Lưu trữ tài khoản mới</tspan></text></g>
<g id="n8-2-1" class="m"><rect x="4130" y="450" width="170" height="40"/><text x="4215" y="460"><tspan x="4215">8.2.1</tspan><tspan x="4215" dy="14">Kiểm tra tài khoản cần chỉnh</tspan><tspan x="4215" dy="14">sửa</tspan></text></g>
<g id="n8-2-2" class="m"><rect x="4130" y="506" width="170" height="47"/><text x="4215" y="519.5"><tspan x="4215">8.2.2</tspan><tspan x="4215" dy="14">Kiểm tra thông tin chỉnh sửa</tspan><tspan x="4215" dy="14">của tài khoản</tspan></text></g>
<g id="n8-2-3" class="m"><rect x="4130" y="571" width="170" height="39"/><text x="4215" y="580.5"><tspan x="4215">8.2.3</tspan><tspan x="4215" dy="14">Lưu trữ thông tin chỉnh sửa</tspan><tspan x="4215" dy="14">của tài khoản</tspan></text></g>
<g id="n8-4-1" class="m"><rect x="4130" y="645" width="170" height="38"/><text x="4215" y="661"><tspan x="4215">8.4.1</tspan><tspan x="4215" dy="14">Kiểm tra thông tin cần xoá</tspan></text></g>
<g id="n8-4-2" class="m"><rect x="4130" y="700" width="170" height="40"/><text x="4215" y="717"><tspan x="4215">8.4.2</tspan><tspan x="4215" dy="14">Xóa tài khoản</tspan></text></g>

<!-- Column 9 -->
<g id="n9" class="p"><rect x="4360" y="212" width="161" height="81"/><text x="4440.5" y="249.5"><tspan x="4440.5">9</tspan><tspan x="4440.5" dy="14">Quản lý nhà cung cấp</tspan></text></g>
<g id="n9-1" class="g"><rect x="4420" y="386" width="191" height="39"/><text x="4515.5" y="402.5"><tspan x="4515.5">9.1</tspan><tspan x="4515.5" dy="14">Chỉnh sửa thông tin nhà cung cấp</tspan></text></g>
<g id="n9-2" class="g"><rect x="4420" y="480" width="191" height="40"/><text x="4515.5" y="497"><tspan x="4515.5">9.2</tspan><tspan x="4515.5" dy="14">Truy vấn thông tin nhà cung cấp</tspan></text></g>
<g id="n9-3" class="g"><rect x="4420" y="551" width="191" height="39"/><text x="4515.5" y="567.5"><tspan x="4515.5">9.3</tspan><tspan x="4515.5" dy="14">Thêm nhà cung cấp mới</tspan></text></g>
<g id="n9-4" class="g"><rect x="4420" y="662" width="191" height="40"/><text x="4515.5" y="679"><tspan x="4515.5">9.4</tspan><tspan x="4515.5" dy="14">Xóa bỏ nhà cung cấp</tspan></text></g>
<g id="n9-1-1" class="m"><rect x="4670" y="329" width="170" height="40"/><text x="4755" y="339"><tspan x="4755">9.1.1</tspan><tspan x="4755" dy="14">Kiểm tra nhà cung cấp cần</tspan><tspan x="4755" dy="14">chỉnh sửa</tspan></text></g>
<g id="n9-1-2" class="m"><rect x="4670" y="385" width="170" height="40"/><text x="4755" y="395"><tspan x="4755">9.1.2</tspan><tspan x="4755" dy="14">Kiểm tra thông tin chỉnh sửa</tspan><tspan x="4755" dy="14">của nhà cung cấp</tspan></text></g>
<g id="n9-1-3" class="m"><rect x="4670" y="440" width="170" height="40"/><text x="4755" y="450"><tspan x="4755">9.1.3</tspan><tspan x="4755" dy="14">Lưu trữ thông tin chỉnh sửa</tspan><tspan x="4755" dy="14">nhà cung cấp</tspan></text></g>
<g id="n9-3-1" class="m"><rect x="4670" y="523" width="170" height="39"/><text x="4755" y="532.5"><tspan x="4755">9.3.1</tspan><tspan x="4755" dy="14">Kiểm tra thông tin nhà cung</tspan><tspan x="4755" dy="14">cấp mới</tspan></text></g>
<g id="n9-3-2" class="m"><rect x="4670" y="582" width="170" height="40"/><text x="4755" y="599"><tspan x="4755">9.3.2</tspan><tspan x="4755" dy="14">Lưu trữ nhà cung cấp mới</tspan></text></g>
<g id="n9-4-1" class="m"><rect x="4670" y="640" width="170" height="42"/><text x="4755" y="651"><tspan x="4755">9.4.1</tspan><tspan x="4755" dy="14">Kiểm tra thông tin nhà cung</tspan><tspan x="4755" dy="14">cấp cần xoá</tspan></text></g>
<g id="n9-4-2" class="m"><rect x="4670" y="700" width="170" height="40"/><text x="4755" y="717"><tspan x="4755">9.4.2</tspan><tspan x="4755" dy="14">Xóa nhà cung cấp</tspan></text></g>

<!-- Column 10 -->
<g id="n10" class="p"><rect x="4890" y="211" width="161" height="79"/><text x="4970.5" y="247.5"><tspan x="4970.5">10</tspan><tspan x="4970.5" dy="14">Quản lý thông tin kho</tspan></text></g>
<g id="n10-1" class="g b"><rect x="4950" y="386" width="191" height="39"/><text x="5045.5" y="401.5"><tspan x="5045.5">10.1</tspan><tspan x="5045.5" dy="18">Chỉnh sửa thông tin kho</tspan></text></g>
<g id="n10-2" class="g b"><rect x="4950" y="480" width="191" height="40"/><text x="5045.5" y="496"><tspan x="5045.5">10.2</tspan><tspan x="5045.5" dy="18">Truy vấn thông tin kho</tspan></text></g>
<g id="n10-3" class="g b"><rect x="4950" y="551" width="191" height="39"/><text x="5045.5" y="566.5"><tspan x="5045.5">10.3</tspan><tspan x="5045.5" dy="18">Thêm kho mới</tspan></text></g>
<g id="n10-4" class="g b"><rect x="4950" y="662" width="191" height="40"/><text x="5045.5" y="678"><tspan x="5045.5">10.4</tspan><tspan x="5045.5" dy="18">Xóa kho</tspan></text></g>
<g id="n10-1-1" class="m"><rect x="5200" y="329" width="171" height="40"/><text x="5285.5" y="346"><tspan x="5285.5">10.1.1</tspan><tspan x="5285.5" dy="14">Kiểm tra kho cần chỉnh sửa</tspan></text></g>
<g id="n10-1-2" class="m"><rect x="5200" y="385" width="171" height="40"/><text x="5285.5" y="395"><tspan x="5285.5">10.1.2</tspan><tspan x="5285.5" dy="14">Kiểm tra thông tin chỉnh sửa</tspan><tspan x="5285.5" dy="14">của kho</tspan></text></g>
<g id="n10-1-3" class="m"><rect x="5200" y="440" width="171" height="40"/><text x="5285.5" y="450"><tspan x="5285.5">10.1.3</tspan><tspan x="5285.5" dy="14">Lưu trữ thông tin chỉnh sửa</tspan><tspan x="5285.5" dy="14">của kho</tspan></text></g>
<g id="n10-3-1" class="m"><rect x="5200" y="523" width="171" height="39"/><text x="5285.5" y="539.5"><tspan x="5285.5">10.3.1</tspan><tspan x="5285.5" dy="14">Kiểm tra thông tin kho mới</tspan></text></g>
<g id="n10-3-2" class="m"><rect x="5200" y="582" width="171" height="40"/><text x="5285.5" y="599"><tspan x="5285.5">10.3.2</tspan><tspan x="5285.5" dy="14">Lưu trữ thông tin kho mới</tspan></text></g>
<g id="n10-4-1" class="m"><rect x="5200" y="640" width="171" height="42"/><text x="5285.5" y="658"><tspan x="5285.5">10.4.1</tspan><tspan x="5285.5" dy="14">Kiểm tra thông tin kho cần xoá</tspan></text></g>
<g id="n10-4-2" class="m"><rect x="5200" y="700" width="171" height="40"/><text x="5285.5" y="717"><tspan x="5285.5">10.4.2</tspan><tspan x="5285.5" dy="14">Xóa kho</tspan></text></g>

<!-- Column 11 -->
<g id="n11" class="p"><rect x="5440" y="211" width="159" height="79"/><text x="5519.5" y="247.5"><tspan x="5519.5">11</tspan><tspan x="5519.5" dy="14">Quản lý bếp</tspan></text></g>
</svg>
